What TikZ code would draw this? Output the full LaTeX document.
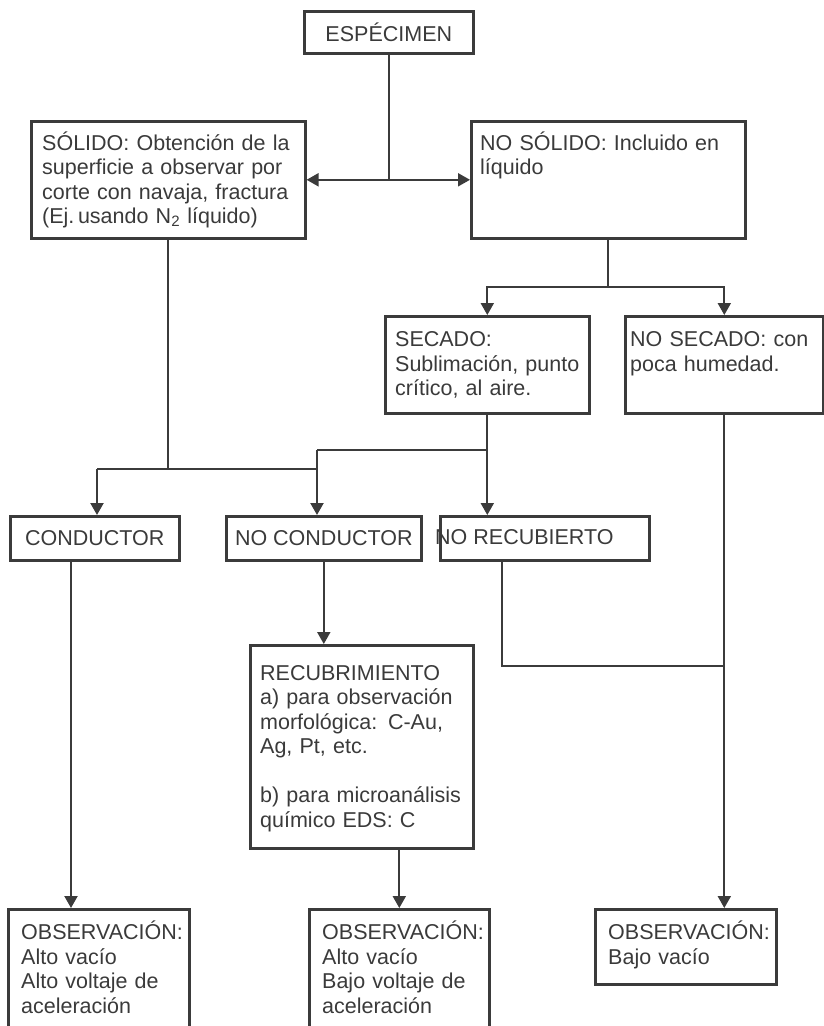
\documentclass[tikz,border=0pt]{standalone}
\usepackage{fontspec}
\setmainfont{Liberation Sans}
\usetikzlibrary{arrows.meta}
\definecolor{ink}{HTML}{3B3B3B}
\definecolor{txt}{HTML}{3A3A3A}
% one justified line spread over the full text width
\newcommand{\jline}[1]{\makebox[\hsize][s]{#1}}
\begin{document}
\begin{tikzpicture}[x=1pt,y=-1pt,
  box/.style={draw=ink, line width=2.6pt, anchor=north west, inner sep=0pt,
    text=txt, font=\fontsize{21.5}{24.5}\selectfont},
  para/.style={anchor=base west, inner sep=0pt, align=left, text=txt,
    font=\fontsize{21.5}{24.5}\selectfont},
  link/.style={draw=ink, line width=2.1pt},
  arr/.style={link, -{Triangle[length=12pt,width=13pt]}},
  darr/.style={link, {Triangle[length=12pt,width=13pt]}-{Triangle[length=12pt,width=13pt]}}]
\useasboundingbox (0,0) rectangle (824,1026);
\clip (0,0) rectangle (824,1026);

% boxes
\node[box, minimum width=169pt, minimum height=42pt] (esp) at (303,10) {ESPÉCIMEN};
\node[box, minimum width=274pt, minimum height=117pt] (solido) at (30,120) {};
\node[box, minimum width=274pt, minimum height=117pt] (nosolido) at (470,120) {};
\node[box, minimum width=204pt, minimum height=97pt] (secado) at (384,315) {};
\node[box, minimum width=198pt, minimum height=97pt] (nosecado) at (624,315) {};
\node[box, minimum width=169pt, minimum height=44pt] (conductor) at (9,515) {CONDUCTOR};
\node[box, minimum width=195pt, minimum height=44pt] (nocond) at (225,515) {NO CONDUCTOR};
\node[box, minimum width=209pt, minimum height=44pt] (norecub) at (439,515) {};
\node[box, minimum width=223pt, minimum height=203pt] (recub) at (249,644) {};
\node[box, minimum width=181pt, minimum height=140pt] (obs1) at (7,908) {};
\node[box, minimum width=180pt, minimum height=140pt] (obs2) at (308,908) {};
\node[box, minimum width=181pt, minimum height=75pt] (obs3) at (594,908) {};

% box texts
\node[para, text width=253pt] (solidot) at (42,150)
  {\jline{SÓLIDO: Obtención de la}\\\jline{superficie a observar por}\\
   \jline{corte con navaja, fractura}\\(Ej.\,usando N\textsubscript{2} líquido)};
\node[para, text width=253pt] (nosolidot) at (480,150)
  {\jline{NO SÓLIDO: Incluido en}\\líquido};
\node[para, text width=183pt] (secadot) at (395,346.5)
  {SECADO:\\\jline{Sublimación, punto}\\crítico, al aire.};
\node[para, text width=189pt] (nosecadot) at (630,346.5)
  {\jline{NO SECADO: con}\\poca humedad.};
\node[para, anchor=west] (norecubt) at (435,537) {NO RECUBIERTO};
\node[para, text width=201pt] (recubt) at (260,680)
  {RECUBRIMIENTO\\\jline{a) para observación}\\\jline{morfológica: C-Au,}\\
   Ag, Pt, etc.\\[24.5pt]b) para microanálisis\\químico EDS: C};
\node[para, text width=165pt] (obs1t) at (21,939.5)
  {OBSERVACIÓN:\\Alto vacío\\Alto voltaje de\\aceleración};
\node[para, text width=165pt] (obs2t) at (322,939.5)
  {OBSERVACIÓN:\\Alto vacío\\Bajo voltaje de\\aceleración};
\node[para, text width=165pt] (obs3t) at (608,939.5)
  {OBSERVACIÓN:\\Bajo vacío};

% connectors
\draw[link] (esp.south) -- (esp.south |- solido.east);
\draw[darr] (solido.east) -- (nosolido.west);

\draw[link] (nosolido.south) -- ++(0,47) coordinate (split1);
\draw[arr] (split1) -| (secado.north);
\draw[arr] (split1) -| (nosecado.north);

\coordinate (jA) at (317,450);
\coordinate (jB) at (317,469);
\coordinate (cL) at (97,469);
\draw[arr] (secado.south) -- (secado.south |- norecub.north);
\draw[link] (secado.south |- jA) -- (jA);
\draw[arr] (jA) -- (jA |- nocond.north);
\draw[link] (solido.south) -- (solido.south |- jB);
\draw[link] (jB) -- (cL);
\draw[arr] (cL) -- (cL |- conductor.north);

\coordinate (cx) at (71,0);
\draw[arr] (conductor.south -| cx) -- (obs1.north -| cx);
\draw[arr] (nocond.south) -- (nocond.south |- recub.north);
\draw[arr] (obs2.north |- recub.south) -- (obs2.north);

\coordinate (nrx) at (502,666);
\draw[link] (norecub.south -| nrx) -- (nrx) -- (nrx -| nosecado.south);
\draw[arr] (nosecado.south) -- (nosecado.south |- obs3.north);
\end{tikzpicture}
\end{document}
